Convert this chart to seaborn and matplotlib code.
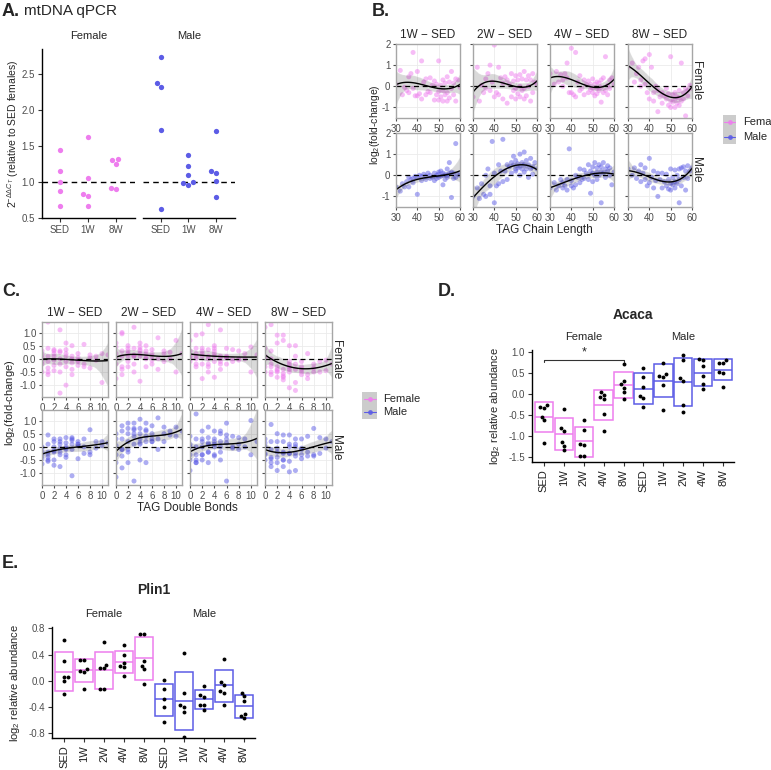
import matplotlib
matplotlib.use("Agg")
import matplotlib.pyplot as plt
from matplotlib.patches import Rectangle
from matplotlib.ticker import FormatStrFormatter
import numpy as np
import pandas as pd
import seaborn as sns

sns.set_style("white")
plt.rcParams['font.family'] = ['Liberation Sans', 'DejaVu Sans']
plt.rcParams['mathtext.fontset'] = 'custom'
plt.rcParams['mathtext.rm'] = 'Liberation Sans'
plt.rcParams['mathtext.it'] = 'Liberation Sans:italic'
plt.rcParams['axes.unicode_minus'] = False

FEMALE = "#EE7DEE"
MALE = "#5C5CE6"
TICK_GREY = "#4D4D4D"

# ---------------- panel A: mtDNA qPCR ----------------
A_times = ["SED", "1W", "8W"]
A_female = [[1.45, 1.15, 1.00, 0.88, 0.67],
            [1.63, 1.06, 0.84, 0.80, 0.67],
            [1.32, 1.30, 1.25, 0.92, 0.90]]
A_male = [[2.74, 2.38, 2.32, 1.73, 0.62],
          [1.38, 1.22, 1.10, 1.00, 0.98, 0.96],
          [1.71, 1.15, 1.13, 1.02, 0.79]]

# ---------------- panels B / C: lipidomics ----------------
contrasts = ["1W \u2212 SED", "2W \u2212 SED", "4W \u2212 SED", "8W \u2212 SED"]

chain_len = [30, 32, 33, 34, 35, 36, 36, 37, 38, 38,
             39, 40, 40, 41, 42, 42, 43, 44, 44, 45,
             46, 46, 47, 48, 48, 49, 49, 50, 50, 50,
             51, 51, 52, 52, 52, 53, 53, 54, 54, 54,
             55, 55, 56, 56, 57, 57, 58, 58, 59, 60]

B_f_1w = [0.1, 0.75, -0.4, -0.05, -0.2, 0.45, -0.3, 0.6, 1.6, -0.1,
          -0.45, 0.7, -0.45, -0.35, 1.2, -0.6, 0.2, -0.4, 0.35, -0.25,
          0.4, -0.3, 0.05, -0.65, 0.25, -0.4, 0.1, 1.2, -0.25, -0.65,
          0.05, -0.5, 0.3, -0.2, -0.7, 0.15, -0.4, 0.45, -0.3, -0.7,
          0.2, -0.55, 0.7, -0.1, 0.15, -0.4, -0.7, 0.35, 0.3, -0.05]
B_f_2w = [-0.5, 0.9, -0.7, 0.05, -0.3, 0.35, -0.1, 0.6, 1.0, -0.2,
          0.2, 1.95, -0.5, -0.3, 0.9, -0.4, 0.4, -0.6, 0.15, 0.45,
          -0.8, 0.3, 0.1, -0.5, 0.6, -0.2, 0.25, 0.5, -0.1, -0.6,
          0.3, -0.35, 0.55, 0.0, -0.5, 0.35, -0.2, 0.7, -0.1, -0.6,
          0.3, -0.45, 0.5, 0.0, 0.3, -0.7, 0.6, -0.3, 0.2, 0.1]
B_f_4w = [0.6, 0.1, 0.7, 0.2, 0.55, 0.3, 0.0, 0.6, 0.4, 1.1,
          -0.3, 1.8, -0.3, -0.4, 1.6, -0.5, 0.2, -0.2, 0.5, -0.1,
          0.3, -0.4, 0.1, -0.3, 0.25, -0.15, 0.1, 0.35, -0.3, -0.1,
          0.1, -0.45, 0.2, -0.1, -0.35, 0.15, -0.2, 0.3, -0.05, -0.75,
          0.4, -0.3, 1.4, -0.2, 0.05, -0.4, 0.3, -0.1, 0.4, 0.1]
B_f_8w = [0.9, 1.1, 0.2, 0.6, 0.9, 0.3, 0.0, 1.2, 1.3, 0.1,
          -0.3, 1.5, -0.6, 0.9, -0.3, -0.7, 0.0, -1.2, -0.2, -0.5,
          -0.3, -0.8, -0.45, -0.6, -0.1, -0.9, -0.35, 1.4, -0.7, -1.0,
          -0.4, -0.75, -0.3, -0.6, -1.0, -0.5, -0.8, -0.2, -0.55, -0.9,
          1.1, -0.7, -0.3, -0.6, -0.1, -1.4, -0.2, -0.45, 0.05, -0.1]
B_m_1w = [-0.55, -0.75, -0.4, -0.55, -0.3, -0.1, -0.55, -0.2, -0.35, -0.15,
          -0.05, -0.9, -0.1, 0.0, -0.25, -0.05, 0.05, -0.2, -0.05, 0.1,
          -0.15, 0.0, -0.1, 0.1, -0.25, 0.0, -0.15, 0.15, -0.1, 0.05,
          -0.05, 0.2, 0.0, -0.45, 0.1, 0.05, -0.2, 0.3, 0.0, -0.1,
          0.6, 0.1, -1.05, 0.15, -0.15, 0.1, 1.5, -0.1, 0.05, 0.0]
B_m_2w = [-1.0, -0.6, -1.1, -0.4, -0.9, 0.0, -1.0, 0.3, -0.5, -0.9,
          1.6, -1.3, 0.1, -0.5, 0.5, -0.4, 0.2, 1.7, -0.3, 0.2,
          0.5, -0.2, 0.4, 0.6, 0.1, 0.5, 0.9, 0.3, 0.7, 0.2,
          0.55, 0.35, 1.0, 0.4, 0.0, 0.6, 0.3, 1.1, 0.5, 0.15,
          0.7, 0.3, 0.5, -0.1, 0.8, 0.3, 0.4, 0.05, 0.6, 0.3]
B_m_4w = [-0.6, -0.35, -0.7, -0.5, -0.2, -0.6, -0.35, -0.5, -0.2, -0.7,
          1.25, -0.5, -0.25, -0.6, 0.0, -0.45, -0.1, 0.3, -0.35, -0.2,
          0.25, -0.15, 0.1, 0.5, -0.2, -0.85, 0.2, 0.4, 0.1, -0.3,
          0.6, 0.0, 0.35, 0.15, -0.2, 0.5, 0.0, -1.3, 0.4, 0.2,
          0.6, 0.1, 0.3, -0.1, 0.45, 0.2, 0.0, 0.35, -0.45, 0.15]
B_m_8w = [0.3, 0.0, 0.35, -0.15, 0.2, 0.5, -0.3, 0.1, -0.2, 0.35,
          -0.5, 0.8, -0.35, -0.1, 0.2, -0.6, -0.25, -1.0, 0.1, -0.2,
          0.1, -0.6, -0.3, 0.05, -0.5, -0.2, -0.65, 0.3, -0.4, -0.7,
          -0.1, -0.45, 0.25, -0.3, -0.6, 0.0, -0.4, 0.3, -0.2, -1.3,
          0.35, -0.5, 0.4, -0.1, -0.7, 0.2, 0.45, -0.15, 0.2, 0.35]

double_bonds = [0, 0, 0, 0, 0, 0, 1, 1, 1, 1, 1, 1, 1, 2, 2, 2, 2, 2, 2, 2,
                3, 3, 3, 3, 3, 3, 3, 4, 4, 4, 4, 4, 4, 4, 5, 5, 5, 5, 5, 5,
                6, 6, 6, 6, 6, 7, 7, 7, 8, 8, 8, 9, 9, 10, 10, 11]

C_f_1w = [0.15, -0.1, 0.3, -0.2, -0.5, 0.05,
          1.4, 0.4, 0.1, -0.1, -0.35, -0.6, -0.5,
          0.3, 0.1, -0.05, -0.25, -0.45, 0.2, 0.35,
          1.1, 0.25, 0.0, -0.2, -0.5, -1.3, 0.3,
          0.35, 0.1, -0.1, -0.3, -1.0, 0.2, 0.6,
          0.5, 0.1, -0.15, -0.4, 0.0, -0.6,
          0.2, -0.1, -0.25, 0.05, -0.05,
          0.55, -0.2, -0.3, 0.15, -0.35, 0.05, 0.1, -0.05, 0.2, -0.9, 0.15]
C_f_2w = [0.6, 0.2, 0.0, -0.2, -0.75, 0.45,
          1.0, 0.95, 0.3, 0.1, -0.3, -0.6, -0.4,
          0.5, 0.3, 0.1, -0.1, -0.3, 0.4, 0.2,
          1.2, 0.4, 0.15, -0.2, -0.5, 0.1, 0.1,
          0.6, 0.35, 0.1, 0.3, 0.45, -0.85, 0.2,
          0.5, 0.2, 0.0, -0.3, 0.3, 0.05,
          0.35, 0.1, -0.2, 0.2, -0.05,
          0.8, 0.0, -0.4, 0.3, -0.1, 0.2, 0.25, 0.0, 0.7, -0.5, 0.2]
C_f_4w = [0.7, 0.3, 0.1, -0.1, 0.0, 0.1,
          0.9, 0.4, 0.2, 0.0, -0.3, -0.2, 0.1,
          0.95, 0.3, 0.1, -0.2, -0.75, 0.2, 0.4,
          1.3, 0.35, 0.0, -0.3, -0.5, 0.1, -0.2,
          0.5, 0.2, -0.1, -0.7, 0.3, 0.1, 0.4,
          1.1, 0.1, -0.2, -0.4, 0.0, -0.1,
          0.4, 0.1, -0.2, 0.05, 0.05,
          0.35, 0.0, -0.1, 0.3, -0.05, 0.0, 0.2, 0.0, 0.45, -0.5, 0.15]
C_f_8w = [1.2, 0.4, 0.1, -0.3, -0.5, 0.0,
          1.3, 0.3, 0.0, -0.3, -0.5, -0.6, -0.2,
          0.9, 0.6, -0.3, -0.5, -0.7, -0.4, -0.45,
          0.9, 0.7, -0.4, -0.55, -0.7, -0.8, -0.65,
          -0.1, -0.3, -0.5, -1.1, -0.2, -0.4, 0.5,
          -0.2, -0.4, -0.9, -1.2, 0.1, 0.5,
          -0.1, -0.4, -0.6, -0.5, -0.3,
          0.2, -0.6, -0.75, -0.2, -0.5, -0.35, -0.1, -0.5, -0.05, -0.45, -0.2]
C_m_1w = [-0.05, -0.3, -0.65, -0.2, -0.45, 0.0,
          0.45, 0.1, -0.2, -0.3, -0.5, -0.4, -0.55,
          0.2, 0.0, -0.2, -0.7, -0.5, -0.15, 0.3,
          0.3, 0.1, -0.05, -0.3, -0.75, -0.2, 0.2,
          0.35, 0.15, -0.1, -0.3, -0.4, 0.0, -0.05,
          0.25, 0.1, -0.1, -1.1, 0.3, 0.35,
          0.2, 0.05, -0.45, 0.1, 0.1,
          0.3, 0.0, -0.25, 0.65, -0.2, -0.3, 0.2, -0.05, 0.2, 0.05, 0.15]
C_m_2w = [0.5, 0.3, -0.3, -0.6, -1.15, 0.05,
          0.8, 0.6, 0.3, -0.1, -0.8, -0.35, -0.1,
          0.9, 0.7, 0.5, 0.2, -0.2, -0.6, -0.1,
          0.9, 0.7, 0.5, 0.4, 0.1, -1.3, 0.65,
          1.05, 0.7, 0.5, 0.3, -0.5, 0.1, 0.15,
          0.9, 0.6, 0.4, 0.2, -0.6, 0.65,
          0.8, 0.5, 0.3, 0.2, 0.2,
          1.1, 0.3, -0.1, 0.75, 0.5, 0.2, 0.6, 0.45, 0.75, 0.4, 0.6]
C_m_4w = [0.4, 0.1, -0.3, -0.5, -0.9, 0.0,
          1.25, 0.3, 0.0, -0.3, -0.5, -0.6, -0.6,
          0.6, 0.3, 0.0, -0.3, -0.5, 0.2, -0.3,
          0.75, 0.35, 0.1, -0.2, -0.6, -0.2, 0.15,
          0.6, 0.3, 0.0, -0.3, -0.35, 0.2, 0.1,
          0.5, 0.2, 0.0, -0.2, -0.5, 0.6,
          0.45, 0.3, 0.15, -1.3, 0.9,
          0.4, 0.0, -0.05, 0.35, -0.1, 0.1, 0.3, 0.0, 1.0, -0.3, 0.2]
C_m_8w = [0.3, 0.0, -0.3, -0.5, 0.15, -0.25,
          0.85, 0.2, -0.1, -0.4, -0.6, -0.75, -0.45,
          0.5, 0.2, -0.2, -0.4, -0.6, -0.9, -0.05,
          0.45, 0.2, -0.2, -0.5, -0.75, -0.5, -0.25,
          0.45, 0.1, -0.25, -0.55, -0.95, 0.0, -0.25,
          0.3, 0.0, -0.35, -0.9, 0.1, -0.25,
          0.3, -0.1, -0.45, -0.3, -0.05,
          0.4, -0.2, -0.35, 0.7, -0.35, -0.3, 0.35, -0.25, 0.3, -0.05, 0.2]

# ---------------- panels D / E: proteomics ----------------
time_labels = ["SED", "1W", "2W", "4W", "8W"]

D_female = [[-0.27, -0.32, -0.33, -0.55, -0.63, -1.17],
            [-0.35, -0.80, -0.87, -1.15, -1.23, -1.33],
            [-0.63, -0.85, -1.18, -1.22, -1.47, -1.47],
            [0.04, -0.03, -0.08, -0.13, -0.47, -0.88],
            [0.72, 0.32, 0.23, 0.15, 0.05, -0.13]]
D_male = [[0.63, 0.40, 0.17, -0.05, -0.10, -0.32],
          [0.73, 0.47, 0.43, 0.40, 0.22, -0.37],
          [0.92, 0.82, 0.38, 0.32, -0.25, -0.42],
          [0.84, 0.80, 0.66, 0.42, 0.23, 0.13],
          [0.82, 0.75, 0.75, 0.52, 0.50, 0.17]]
D_box_low = [-0.90, -1.33, -1.49, -0.63, -0.10, -0.23, -0.08, -0.29, 0.19, 0.33]
D_box_mid = [-0.55, -0.95, -1.13, -0.27, 0.21, 0.13, 0.32, 0.29, 0.51, 0.58]
D_box_high = [-0.20, -0.57, -0.78, 0.10, 0.53, 0.49, 0.72, 0.86, 0.83, 0.84]

E_female = [[0.62, 0.30, 0.06, 0.06, 0.00, -0.20],
            [0.32, 0.31, 0.18, 0.15, 0.14, -0.13],
            [0.59, 0.24, 0.20, 0.19, -0.12, -0.12],
            [0.54, 0.40, 0.27, 0.23, 0.21, 0.08],
            [0.71, 0.71, 0.30, 0.23, 0.18, -0.05]]
E_male = [[0.02, -0.12, -0.28, -0.40, -0.63],
          [0.43, -0.18, -0.37, -0.40, -0.47, -0.85],
          [-0.08, -0.21, -0.24, -0.36, -0.37, -0.44],
          [0.34, -0.02, -0.06, -0.16, -0.18, -0.36],
          [-0.18, -0.23, -0.31, -0.50, -0.53, -0.57]]
E_box_low = [-0.16, -0.01, -0.12, 0.12, 0.02, -0.53, -0.75, -0.43, -0.32, -0.57]
E_box_mid = [0.14, 0.16, 0.16, 0.29, 0.35, -0.28, -0.30, -0.28, -0.07, -0.39]
E_box_high = [0.44, 0.33, 0.44, 0.46, 0.67, -0.05, 0.14, -0.14, 0.17, -0.21]

W, H = 771, 770
fig = plt.figure(figsize=(W / 100, H / 100), dpi=100)


def add_ax(x0, y0, x1, y1):
    # pixel box (from top-left) -> figure fraction
    return fig.add_axes([x0 / W, 1 - y1 / H, (x1 - x0) / W, (y1 - y0) / H])


def fig_text(x, y, s, **kw):
    kw.setdefault('ha', 'center')
    kw.setdefault('va', 'center')
    fig.text(x / W, 1 - y / H, s, **kw)


def classic_axis(ax, left=True):
    for side in ['top', 'right']:
        ax.spines[side].set_visible(False)
    ax.spines['left'].set_visible(left)
    for side in ['left', 'bottom']:
        ax.spines[side].set_color('black')
        ax.spines[side].set_linewidth(1.0)
    ax.tick_params(axis='both', length=3, width=0.8, color='#333333',
                   labelcolor=TICK_GREY, labelsize=7, pad=2, left=left,
                   labelleft=left, bottom=True)
    ax.set_xlabel('')
    ax.set_ylabel('')


# ---------- A ----------
fig_text(2, 11, "A.", fontsize=13, fontweight='bold', ha='left')
fig_text(24, 11, "mtDNA qPCR", fontsize=11, ha='left')
for i, (sex, vals, col, box) in enumerate([("Female", A_female, FEMALE, (42, 49, 135, 218)),
                                           ("Male", A_male, MALE, (143, 49, 235, 218))]):
    ax = add_ax(*box)
    df = pd.DataFrame({'time': [t for t, v in zip(A_times, vals) for _ in v],
                       'value': [x for v in vals for x in v]})
    sns.swarmplot(data=df, x='time', y='value', order=A_times, color=col,
                  size=3.8, ax=ax)
    ax.axhline(1, color='black', lw=1, ls=(0, (4, 3)))
    ax.set_xlim(-0.63, 2.68)
    ax.set_ylim(0.5, 2.85)
    ax.set_yticks([0.5, 1.0, 1.5, 2.0, 2.5])
    ax.yaxis.set_major_formatter(FormatStrFormatter('%.1f'))
    classic_axis(ax, left=(i == 0))
    fig_text((box[0] + box[2]) / 2, 36, sex, fontsize=8)
fig_text(13, 134, r"$2^{-\Delta\Delta C_T}$ (relative to SED females)",
         fontsize=7.5, rotation=90)


# ---------- B / C facet grids ----------
def facet_grid(xvals, ysets, cols, rows, xlim, ylim, xticks, yticks, yfmt):
    axes = []
    for r, (sex, col) in enumerate([("Female", FEMALE), ("Male", MALE)]):
        for c in range(4):
            ax = add_ax(cols[c][0], rows[r][0], cols[c][1], rows[r][1])
            y = ysets[r][c]
            sns.scatterplot(x=xvals, y=y, color=col, alpha=0.5, s=13,
                            edgecolor='none', ax=ax, legend=False)
            ax.axhline(0, color='black', lw=0.9, ls=(0, (4, 3)), zorder=2)
            sns.regplot(x=xvals, y=y, order=3, scatter=False, color='black',
                        line_kws={'lw': 1}, ax=ax, seed=0, truncate=False)
            ax.set_xlim(*xlim)
            ax.set_ylim(*ylim)
            ax.set_xticks(xticks)
            ax.set_yticks(yticks)
            ax.yaxis.set_major_formatter(FormatStrFormatter(yfmt))
            if c > 0:
                ax.set_yticklabels([])
            ax.grid(True, color='#EBEBEB', lw=0.6)
            ax.set_axisbelow(True)
            for s in ax.spines.values():
                s.set_color('#A6A6A6')
                s.set_linewidth(1.0)
            ax.tick_params(axis='both', length=2.5, width=0.8, color=TICK_GREY,
                           labelcolor=TICK_GREY, labelsize=7, pad=1.5,
                           left=True, bottom=True)
            ax.set_xlabel('')
            ax.set_ylabel('')
            if r == 0:
                ax.set_title(contrasts[c], fontsize=8.5, pad=4)
            if c == 3:
                ax.text(1.06, 0.5, sex, rotation=270, fontsize=8.5,
                        transform=ax.transAxes, ha='center', va='center')
            axes.append(ax)
    return axes


def legend_key(x0, y0, x1, y1, text_x):
    kax = add_ax(x0, y0, x1, y1)
    kax.set_xlim(0, 1)
    kax.set_ylim(0, 2)
    kax.add_patch(Rectangle((0, 0), 1, 2, color='#CCCCCC', lw=0))
    for i, (lab, col) in enumerate([("Female", FEMALE), ("Male", MALE)]):
        yy = 1.5 - i
        kax.plot([0.1, 0.9], [yy, yy], color=col, lw=0.8)
        kax.plot([0.5], [yy], 'o', color=col, ms=2.5, alpha=0.8)
        fig_text(text_x, y0 + (y1 - y0) * (0.25 + 0.5 * i), lab,
                 fontsize=8, ha='left')
    kax.axis('off')


fig_text(372, 12, "B.", fontsize=13, fontweight='bold', ha='left')
facet_grid(chain_len,
           [[B_f_1w, B_f_2w, B_f_4w, B_f_8w], [B_m_1w, B_m_2w, B_m_4w, B_m_8w]],
           [(396, 460), (473, 537), (550, 614), (628, 692)],
           [(44, 118), (133, 207)],
           (30, 60), (-1.5, 2.0), [30, 40, 50, 60], [-1, 0, 1, 2], '%d')
fig_text(375, 125, r"log$_2$(fold-change)", fontsize=7.5, rotation=90)
fig_text(544, 230, "TAG Chain Length", fontsize=8.5)
legend_key(723, 115, 736, 144, 743)

fig_text(2, 292, "C.", fontsize=13, fontweight='bold', ha='left')
facet_grid(double_bonds,
           [[C_f_1w, C_f_2w, C_f_4w, C_f_8w], [C_m_1w, C_m_2w, C_m_4w, C_m_8w]],
           [(42, 108), (116, 182), (190, 257), (265, 332)],
           [(322, 397), (410, 485)],
           (0, 11), (-1.45, 1.4), [0, 2, 4, 6, 8, 10], [-1.0, -0.5, 0.0, 0.5, 1.0], '%.1f')
fig_text(10, 403, r"log$_2$(fold-change)", fontsize=8, rotation=90)
fig_text(187, 508, "TAG Double Bonds", fontsize=8.5)
legend_key(362, 392, 377, 419, 383)


# ---------- D / E crossbar panels ----------
def crossbar_panel(box, female, male, low, mid, high, ylim, yticks, title,
                   title_y, strip_y, ylabel_x):
    ax = add_ax(*box)
    groups = [f"F {t}" for t in time_labels] + [f"M {t}" for t in time_labels]
    df = pd.DataFrame({'group': [g for g, v in zip(groups, female + male) for _ in v],
                       'value': [x for v in female + male for x in v]})
    edge = [FEMALE] * 5 + [MALE] * 5
    pos = np.arange(len(groups))
    ax.bar(pos, np.array(high) - np.array(low), bottom=low, width=0.92,
           fill=False, edgecolor=edge, linewidth=1.1, zorder=1)
    ax.hlines(mid, pos - 0.46, pos + 0.46, colors=edge, lw=1.1, zorder=1)
    sns.swarmplot(data=df, x='group', y='value', order=groups, color='black',
                  size=2.8, ax=ax, zorder=3)
    ax.set_xlim(-0.6, 9.55)
    ax.set_ylim(*ylim)
    ax.set_yticks(yticks)
    ax.yaxis.set_major_formatter(FormatStrFormatter('%.1f'))
    ax.set_xticks(pos)
    ax.set_xticklabels(time_labels * 2, rotation=90, fontsize=8)
    classic_axis(ax)
    ax.tick_params(axis='x', labelsize=8, labelcolor='#222222')
    cx = (box[0] + box[2]) / 2
    fig_text(cx, title_y, title, fontsize=10, fontweight='bold')
    xl = ax.get_xlim()
    pw = (box[2] - box[0]) / (xl[1] - xl[0])
    fig_text(box[0] + (2 - xl[0]) * pw, strip_y, "Female", fontsize=8)
    fig_text(box[0] + (7 - xl[0]) * pw, strip_y, "Male", fontsize=8)
    fig_text(ylabel_x, (box[1] + box[3]) / 2, r"log$_2$ relative abundance",
             fontsize=8, rotation=90)
    return ax


fig_text(438, 291, "D.", fontsize=13, fontweight='bold', ha='left')
axd = crossbar_panel((532, 350, 734, 462), D_female, D_male, D_box_low,
                     D_box_mid, D_box_high, (-1.62, 1.05),
                     [-1.5, -1.0, -0.5, 0.0, 0.5, 1.0], "Acaca", 315, 337, 495)
axd.plot([0, 0, 4, 4], [0.76, 0.81, 0.81, 0.76], color='#333333', lw=0.8)
axd.text(2, 0.86, "*", ha='center', va='bottom', fontsize=9)

fig_text(2, 564, "E.", fontsize=13, fontweight='bold', ha='left')
crossbar_panel((52, 627, 255, 738), E_female, E_male, E_box_low, E_box_mid,
               E_box_high, (-0.87, 0.82), [-0.8, -0.4, 0.0, 0.4, 0.8],
               "Plin1", 590, 614, 15)

fig.savefig("out.png", dpi=100)
